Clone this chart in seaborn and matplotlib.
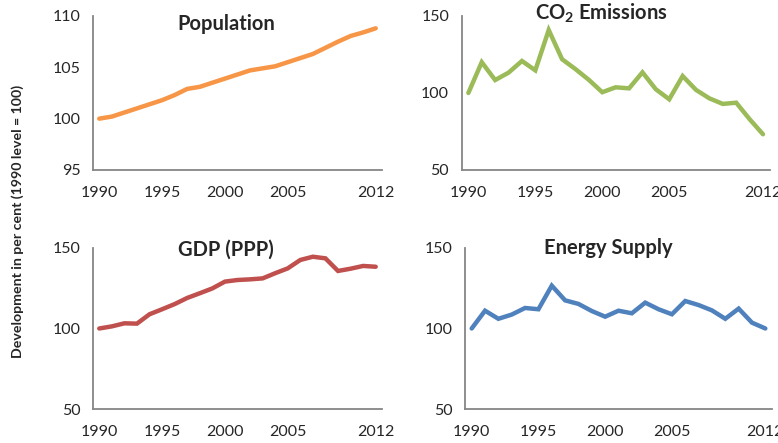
import numpy as np
import pandas as pd
import seaborn as sns
import matplotlib.pyplot as plt

# valores (1990 = 100)
anos = list(range(1990, 2013))
populacao = [100.0, 100.2, 100.6, 101.0, 101.4, 101.8, 102.3, 102.9, 103.1, 103.5, 103.9, 104.3,
             104.7, 104.9, 105.1, 105.5, 105.9, 106.3, 106.9, 107.5, 108.05, 108.4, 108.8]
co2 = [100.0, 120.0, 108.4, 113.2, 120.8, 114.7, 140.9, 121.9, 115.5, 108.5, 100.5, 103.7,
       103.0, 113.4, 102.4, 95.9, 111.0, 102.0, 96.5, 92.9, 93.7, 83.0, 73.2]
pib = [100.0, 101.3, 103.2, 103.0, 108.8, 111.9, 115.1, 118.9, 121.8, 124.8, 129.0, 130.0,
       130.4, 131.0, 134.2, 137.2, 142.4, 144.4, 143.4, 135.6, 137.0, 138.7, 138.2]
energia = [100.0, 111.0, 106.0, 108.6, 112.7, 111.9, 126.5, 117.4, 115.2, 110.8, 107.3, 111.0,
           109.4, 116.0, 111.9, 108.8, 117.0, 114.5, 111.2, 106.0, 112.3, 103.6, 100.0]

anos_rotulo = [1990, 1995, 2000, 2005, 2012]

sns.set_style("white")
plt.rcParams['font.family'] = ['Lato', 'DejaVu Sans']
plt.rcParams['mathtext.fontset'] = 'custom'
plt.rcParams['mathtext.rm'] = 'Lato:bold'
plt.rcParams['mathtext.bf'] = 'Lato:bold'

cinza = '#868686'
texto = '#262626'

fig = plt.figure(figsize=(7.78, 4.43), dpi=100)

paineis = [
    # serie, titulo, cor, ylim, yticks, posicao, titulo_xy
    (populacao, 'Population', '#F79646', (95, 110), [95, 100, 105, 110],
     [0.1195, 0.6163, 0.3715, 0.3476], (0.46, 0.945)),
    (co2, 'CO$_2$ Emissions', '#9BBB59', (50, 150), [50, 100, 150],
     [0.5934, 0.6163, 0.3959, 0.3476], (0.455, 1.02)),
    (pib, 'GDP (PPP)', '#C0504D', (50, 150), [50, 100, 150],
     [0.1195, 0.0761, 0.3715, 0.3648], (0.46, 0.985)),
    (energia, 'Energy Supply', '#4F81BD', (50, 150), [50, 100, 150],
     [0.5977, 0.0761, 0.3946, 0.3648], (0.466, 0.995)),
]

for serie, titulo, cor, ylim, yticks, pos, txy in paineis:
    ax = fig.add_axes(pos)
    df = pd.DataFrame({'ano': anos, 'valor': serie})
    sns.lineplot(data=df, x='ano', y='valor', ax=ax, color=cor, linewidth=3.2,
                 solid_joinstyle='miter')
    ax.set_xlim(anos[0] - 0.5, anos[-1] + 0.5)
    ax.set_ylim(*ylim)
    ax.set_yticks(yticks)
    ax.set_xticks(anos_rotulo)
    ax.set_xticklabels([str(a) for a in anos_rotulo])
    ax.set_xticks(np.arange(anos[0] - 0.5, anos[-1] + 1), minor=True)
    ax.tick_params(axis='x', which='major', length=0, pad=11.5, labelsize=11.5, colors=texto)
    ax.tick_params(axis='x', which='minor', length=5, width=1.1, color=cinza, direction='out')
    ax.tick_params(axis='y', which='major', length=5, width=1.1, color=cinza, direction='out',
                   labelsize=11.5, labelcolor=texto, pad=4)
    ax.set_xlabel('')
    ax.set_ylabel('')
    for lado in ['top', 'right']:
        ax.spines[lado].set_visible(False)
    for lado in ['left', 'bottom']:
        ax.spines[lado].set_color(cinza)
        ax.spines[lado].set_linewidth(1.3)
    ax.text(txy[0], txy[1], titulo, transform=ax.transAxes, ha='center', va='center',
            fontsize=14.5, fontweight='bold', color=texto)
    ax.patch.set_alpha(0)

fig.text(0.023, 0.5, 'Development in per cent (1990 level = 100)', rotation=90,
         ha='center', va='center', fontsize=10.2, fontweight='bold', color=texto)

fig.savefig('out.png', dpi=100)
